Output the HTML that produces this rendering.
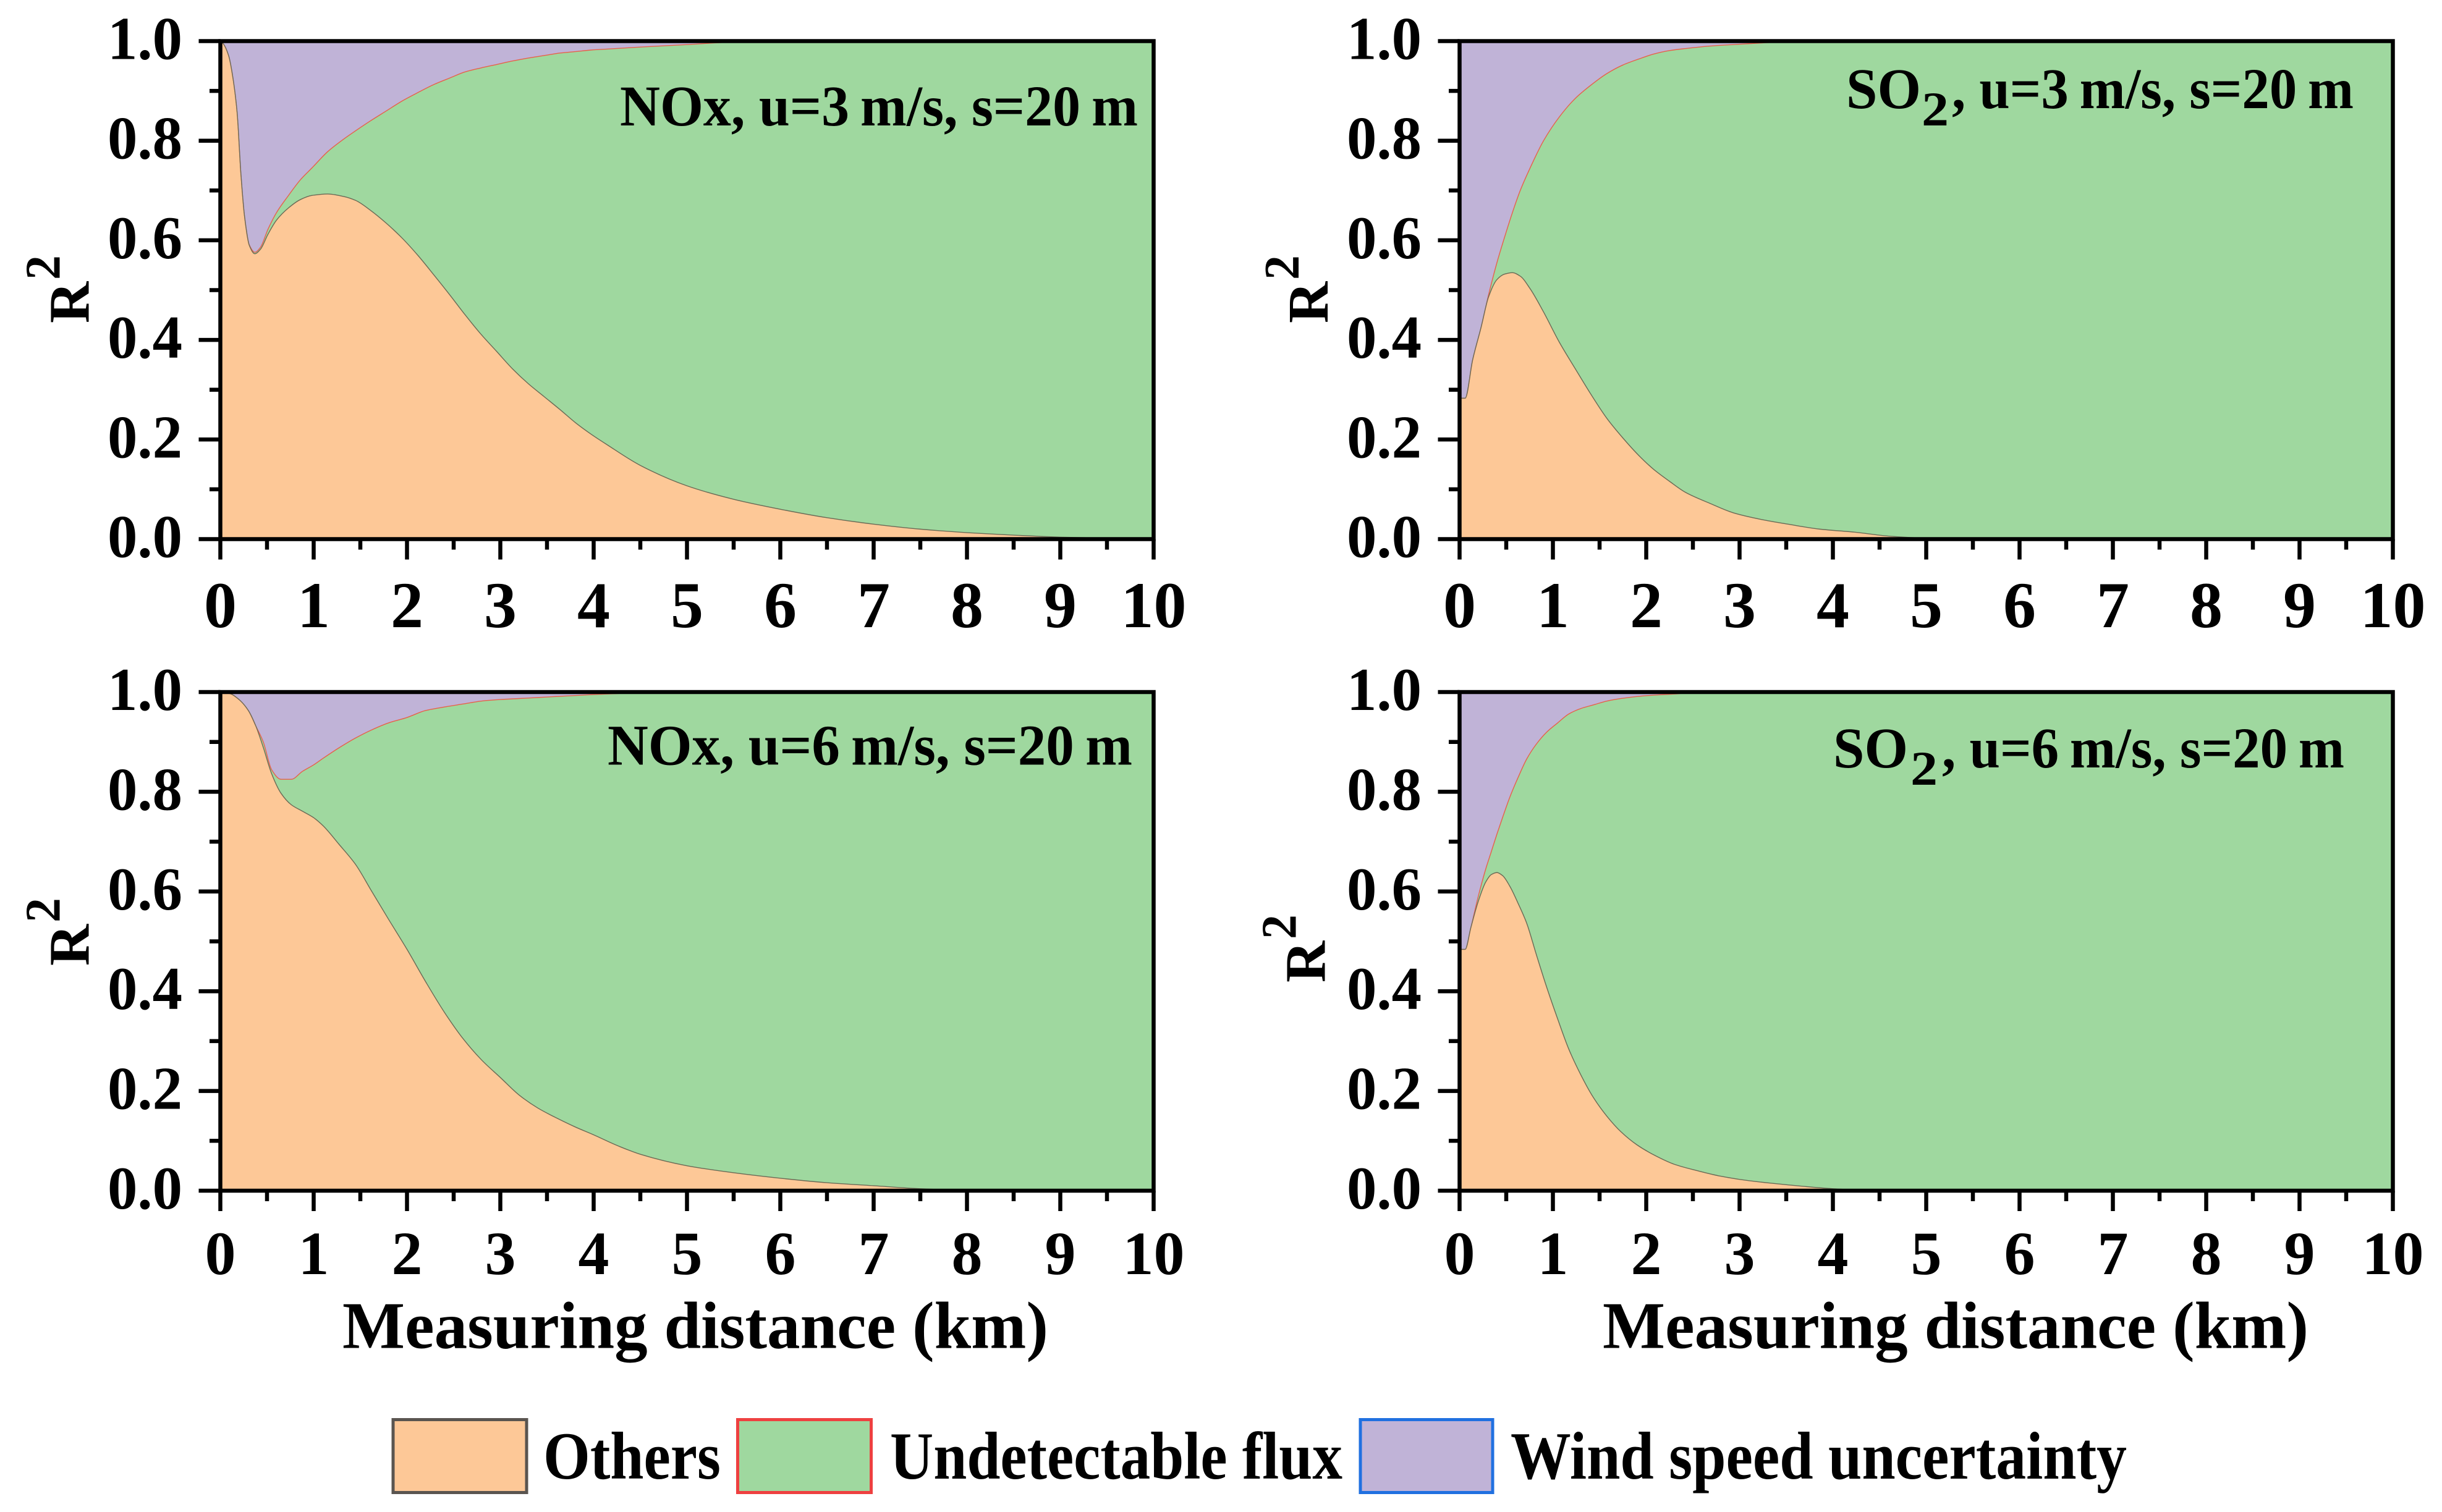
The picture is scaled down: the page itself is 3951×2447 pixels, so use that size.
<!DOCTYPE html>
<html lang="en">
<head>
<meta charset="utf-8">
<title>R2 contribution vs measuring distance</title>
<style>
  html, body { margin: 0; padding: 0; background: #fff; }
  svg { display: block; }
  text { font-family: "Liberation Serif", serif; font-weight: bold; fill: #000; }
</style>
</head>
<body>
<svg id="chart" xmlns="http://www.w3.org/2000/svg" width="3951" height="2447" viewBox="0 0 3951 2447">
  <rect x="0" y="0" width="3951" height="2447" fill="#ffffff"/>
  <g>
    <rect x="636" y="2297.5" width="216" height="118" fill="#fdc897" stroke="#5a5550" stroke-width="5"/>
    <text x="879" y="2393" font-size="109" textLength="287" lengthAdjust="spacingAndGlyphs">Others</text>
    <rect x="1193.5" y="2297.5" width="216" height="118" fill="#9fd89f" stroke="#ee4040" stroke-width="5"/>
    <text x="1440" y="2393" font-size="109" textLength="732" lengthAdjust="spacingAndGlyphs">Undetectable flux</text>
    <rect x="2201" y="2297.5" width="214" height="118" fill="#c0b3d7" stroke="#2070e0" stroke-width="5"/>
    <text x="2444" y="2393" font-size="109" textLength="997" lengthAdjust="spacingAndGlyphs">Wind speed uncertainty</text>
  </g>
</svg>
<script>
// ---- Shared axis data ----
const xTickLabels = [0, 1, 2, 3, 4, 5, 6, 7, 8, 9, 10];
const xMinorTicks = [0.5, 1.5, 2.5, 3.5, 4.5, 5.5, 6.5, 7.5, 8.5, 9.5];
const yTickLabels = ['0.0', '0.2', '0.4', '0.6', '0.8', '1.0'];
const yMinorTicks = [0.1, 0.3, 0.5, 0.7, 0.9];

// ---- NOx, u=3 m/s, s=20 m ----
const nox3Distance = [0,.03,.09,.135,.18,.22,.26,.31,.37,.43,.51,.6,.73,.86,.98,1.15,1.32,1.45,1.61,1.78,1.95,2.12,2.29,2.46,2.62,2.79,2.96,3.13,3.3,3.47,3.64,3.81,3.97,4.14,4.5,5,5.5,6,6.5,7,7.5,8,8.5,9,9.5,10];
const nox3Others = [1,.995,.97,.926,.856,.734,.647,.59,.573,.582,.612,.64,.665,.682,.69,.693,.688,.68,.66,.634,.604,.569,.53,.49,.451,.412,.377,.342,.312,.286,.26,.233,.211,.19,.148,.107,.08,.06,.043,.03,.02,.013,.008,.004,.002,0];
const nox3Undetectable = [0,0,0,0,0,0,0,.001,.003,.004,.01,.015,.025,.04,.055,.085,.115,.14,.18,.226,.276,.328,.383,.436,.487,.534,.576,.618,.654,.685,.716,.746,.771,.794,.84,.886,.918,.94,.957,.97,.98,.987,.992,.996,.998,1];
const nox3Wind = [0,.005,.03,.074,.144,.266,.353,.409,.424,.414,.378,.345,.31,.278,.255,.222,.197,.18,.16,.14,.12,.103,.087,.074,.062,.054,.047,.04,.034,.029,.024,.021,.018,.016,.012,.007,.002,0,0,0,0,0,0,0,0,0];

// ---- SO2, u=3 m/s, s=20 m ----
const so3Distance = [0,.06,.14,.23,.31,.4,.48,.565,.65,.755,.9,1.07,1.24,1.41,1.58,1.75,1.92,2.08,2.25,2.42,2.68,2.93,3.22,3.52,3.86,4.23,4.6,5,5.5,10];
const so3Others = [.283,.283,.36,.425,.486,.521,.532,.535,.528,.503,.456,.395,.342,.29,.242,.203,.168,.14,.116,.094,.072,.053,.04,.03,.02,.014,.006,.002,0,0];
const so3Undetectable = [0,0,0,0,.004,.034,.073,.12,.172,.242,.344,.453,.543,.622,.693,.749,.796,.834,.865,.891,.918,.94,.956,.969,.98,.986,.994,.998,1,1];
const so3Wind = [.717,.717,.64,.575,.51,.445,.395,.345,.3,.255,.2,.152,.115,.088,.065,.048,.036,.026,.019,.015,.01,.007,.004,.001,0,0,0,0,0,0];

// ---- NOx, u=6 m/s, s=20 m ----
const nox6Distance = [0,.1,.2,.3,.38,.46,.55,.65,.76,.88,1,1.1,1.27,1.45,1.62,1.8,2,2.2,2.4,2.6,2.8,3,3.2,3.4,3.6,3.8,4,4.26,4.5,5,5.5,6,6.5,7,7.5,8,8.5,10];
const nox6Others = [1,.997,.985,.963,.932,.889,.836,.797,.774,.761,.748,.732,.695,.654,.601,.545,.484,.419,.358,.305,.262,.227,.192,.166,.146,.128,.112,.09,.073,.05,.036,.025,.016,.01,.004,.001,0,0];
const nox6Undetectable = [0,0,0,0,0,.011,.008,.028,.051,.08,.106,.135,.193,.254,.323,.393,.465,.544,.612,.671,.72,.758,.795,.823,.845,.865,.883,.907,.927,.95,.964,.975,.984,.99,.996,.999,1,1];
const nox6Wind = [0,.003,.015,.037,.068,.1,.156,.175,.175,.159,.146,.133,.112,.092,.076,.062,.051,.037,.03,.024,.018,.015,.013,.011,.009,.007,.005,.003,0,0,0,0,0,0,0,0,0,0];

// ---- SO2, u=6 m/s, s=20 m ----
const so6Distance = [0,.06,.12,.2,.28,.34,.4,.46,.54,.63,.72,.82,.93,1.05,1.17,1.3,1.43,1.58,1.73,1.9,2.1,2.3,2.55,2.8,3.1,3.5,4,4.5,10];
const so6Others = [.484,.484,.527,.58,.619,.634,.638,.632,.61,.575,.536,.475,.41,.345,.284,.232,.188,.149,.118,.092,.07,.053,.04,.029,.02,.012,.004,0,0];
const so6Undetectable = [0,0,0,.01,.026,.046,.077,.116,.18,.255,.33,.42,.509,.593,.672,.735,.786,.833,.869,.899,.924,.943,.96,.971,.98,.988,.996,1,1];
const so6Wind = [.516,.516,.473,.41,.355,.32,.285,.252,.21,.17,.134,.105,.081,.062,.044,.033,.026,.018,.013,.009,.006,.004,0,0,0,0,0,0,0];

const NS = 'http://www.w3.org/2000/svg';
const svg = document.getElementById('chart');

function makeEl(parent, tag, name, attrs, content) {
  const el = document.createElementNS(NS, tag);
  
  
  for (const k in attrs) el.setAttribute(k, attrs[k]);
  if (content !== undefined) el.textContent = content;
  parent.appendChild(el);
  return el;
}

// Monotone cubic tangents so the area edges stay smooth without overshoot.
function tangents(xs, ys) {
  const n = xs.length;
  const d = [];
  for (let i = 0; i < n - 1; i++) d.push((ys[i + 1] - ys[i]) / (xs[i + 1] - xs[i]));
  const m = [d[0]];
  for (let i = 1; i < n - 1; i++) {
    if (d[i - 1] * d[i] <= 0) { m.push(0); continue; }
    const h0 = xs[i] - xs[i - 1];
    const h1 = xs[i + 1] - xs[i];
    const w1 = 2 * h1 + h0;
    const w2 = h1 + 2 * h0;
    m.push((w1 + w2) / (w1 / d[i - 1] + w2 / d[i]));
  }
  m.push(d[n - 2]);
  return m;
}

function curve(p, values, reverse) {
  const xs = p.distance;
  const m = tangents(xs, values);
  const X = p.xScale;
  const Y = p.yScale;
  const f = function (v) { return v.toFixed(2); };
  let d = '';
  if (!reverse) {
    for (let i = 0; i < xs.length - 1; i++) {
      const h = (xs[i + 1] - xs[i]) / 3;
      d += 'C' + f(X(xs[i] + h)) + ' ' + f(Y(values[i] + m[i] * h)) + ' ' +
           f(X(xs[i + 1] - h)) + ' ' + f(Y(values[i + 1] - m[i + 1] * h)) + ' ' +
           f(X(xs[i + 1])) + ' ' + f(Y(values[i + 1]));
    }
  } else {
    for (let i = xs.length - 1; i > 0; i--) {
      const h = (xs[i] - xs[i - 1]) / 3;
      d += 'C' + f(X(xs[i] - h)) + ' ' + f(Y(values[i] - m[i] * h)) + ' ' +
           f(X(xs[i - 1] + h)) + ' ' + f(Y(values[i - 1] + m[i - 1] * h)) + ' ' +
           f(X(xs[i - 1])) + ' ' + f(Y(values[i - 1]));
    }
  }
  return d;
}

function stackPath(p, lower, upper) {
  const last = p.distance.length - 1;
  return 'M' + p.xScale(p.distance[0]).toFixed(2) + ' ' + p.yScale(upper[0]).toFixed(2) +
    curve(p, upper, false) +
    'L' + p.xScale(p.distance[last]).toFixed(2) + ' ' + p.yScale(lower[last]).toFixed(2) +
    curve(p, lower, true) + 'Z';
}

function linePath(p, values) {
  return 'M' + p.xScale(p.distance[0]).toFixed(2) + ' ' + p.yScale(values[0]).toFixed(2) + curve(p, values, false);
}

function drawPanel(p) {
  p.xScale = function (v) { return p.x0 + (v / 10) * p.width; };
  p.yScale = function (v) { return p.y0 - v * p.height; };
  const g = makeEl(svg, 'g', p.name, {});

  const zero = p.distance.map(function () { return 0; });
  const level1 = p.others.slice();
  const level2 = level1.map(function (v, i) { return v + p.undetectable[i]; });
  const level3 = level2.map(function (v, i) { return v + p.wind[i]; });

  makeEl(g, 'path', 'wind-speed-uncertainty-area', { d: stackPath(p, level2, level3), fill: '#c0b3d7' });
  makeEl(g, 'path', 'undetectable-flux-area', { d: stackPath(p, level1, level2), fill: '#9fd89f' });
  makeEl(g, 'path', 'others-area', { d: stackPath(p, zero, level1), fill: '#fdc897' });
  makeEl(g, 'path', 'undetectable-flux-top-line', { d: linePath(p, level2), fill: 'none', stroke: '#e8604a', 'stroke-width': 1.4, 'stroke-linejoin': 'round' });
  makeEl(g, 'path', 'others-top-line', { d: linePath(p, level1), fill: 'none', stroke: '#6a6a55', 'stroke-width': 1.4, 'stroke-linejoin': 'round' });

  const axisStroke = { stroke: '#000', 'stroke-width': 6.5, fill: 'none' };
  const right = p.x0 + p.width;
  const top = p.y0 - p.height;
  makeEl(g, 'path', 'plot-frame', Object.assign({ d: 'M' + p.x0 + ' ' + p.y0 + 'L' + p.x0 + ' ' + top + 'L' + right + ' ' + top + 'L' + right + ' ' + p.y0 + 'Z' }, axisStroke));

  xTickLabels.forEach(function (v) {
    const x = p.xScale(v);
    makeEl(g, 'line', 'x-major-tick', Object.assign({ x1: x, x2: x, y1: p.y0, y2: p.y0 + 33 }, axisStroke));
    makeEl(g, 'text', 'x-tick-label', { x: x, y: p.xLabelY, 'font-size': p.xLabelSize, 'text-anchor': 'middle' }, String(v));
  });
  xMinorTicks.forEach(function (v) {
    const x = p.xScale(v);
    makeEl(g, 'line', 'x-minor-tick', Object.assign({ x1: x, x2: x, y1: p.y0, y2: p.y0 + 17 }, axisStroke));
  });
  yTickLabels.forEach(function (label) {
    const y = p.yScale(Number(label));
    makeEl(g, 'line', 'y-major-tick', Object.assign({ x1: p.x0 - 35, x2: p.x0, y1: y, y2: y }, axisStroke));
    makeEl(g, 'text', 'y-tick-label', { x: p.x0 - 61.5, y: y + 29, 'font-size': 99, 'text-anchor': 'end', textLength: 121, lengthAdjust: 'spacingAndGlyphs' }, label);
  });
  yMinorTicks.forEach(function (v) {
    const y = p.yScale(v);
    makeEl(g, 'line', 'y-minor-tick', Object.assign({ x1: p.x0 - 17.5, x2: p.x0, y1: y, y2: y }, axisStroke));
  });

  makeEl(g, 'text', 'y-axis-title', { transform: 'translate(' + p.rX + ' ' + p.rY + ') rotate(-90)', 'font-size': 93 }, 'R');
  makeEl(g, 'text', 'y-axis-title-superscript', { transform: 'translate(' + (p.rX - 47) + ' ' + (p.rY - 70) + ') rotate(-90)', 'font-size': 80 }, '2');

  if (p.title) {
    makeEl(g, 'text', 'x-axis-title', { x: p.title.x, y: 2181.7, 'font-size': 108, textLength: 1142, lengthAdjust: 'spacingAndGlyphs' }, 'Measuring distance (km)');
  }

  if (p.note.plain) {
    makeEl(g, 'text', 'panel-annotation', { x: p.note.x, y: p.note.y, 'font-size': 93, textLength: p.note.len, lengthAdjust: 'spacingAndGlyphs' }, p.note.plain);
  } else {
    makeEl(g, 'text', 'panel-annotation-species', { x: p.note.x, y: p.note.y, 'font-size': 93, textLength: p.note.len, lengthAdjust: 'spacingAndGlyphs' }, 'SO');
    makeEl(g, 'text', 'panel-annotation-subscript', { x: p.note.subX, y: p.note.y + 28, 'font-size': 78, textLength: 44, lengthAdjust: 'spacingAndGlyphs' }, '2');
    makeEl(g, 'text', 'panel-annotation-conditions', { x: p.note.restX, y: p.note.y, 'font-size': 93, textLength: p.note.restLen, lengthAdjust: 'spacingAndGlyphs', 'xml:space': 'preserve' }, p.note.rest);
  }
}

drawPanel({
  name: 'panel-nox-3ms', x0: 356.5, y0: 872.5, width: 1510, height: 806,
  distance: nox3Distance, others: nox3Others, undetectable: nox3Undetectable, wind: nox3Wind,
  xLabelY: 1015, xLabelSize: 106, rX: 143.5, rY: 523,
  note: { plain: 'NOx, u=3\u2009m/s, s=20\u2009m', x: 1003, y: 203, len: 838 }
});
drawPanel({
  name: 'panel-so2-3ms', x0: 2361.5, y0: 872.5, width: 1510, height: 806,
  distance: so3Distance, others: so3Others, undetectable: so3Undetectable, wind: so3Wind,
  xLabelY: 1015, xLabelSize: 106, rX: 2148, rY: 523,
  note: { x: 2987, y: 175, len: 121, subX: 3109, restX: 3158, rest: ', u=3\u2009m/s, s=20\u2009m', restLen: 650 }
});
drawPanel({
  name: 'panel-nox-6ms', x0: 356.5, y0: 1927, width: 1510, height: 807,
  distance: nox6Distance, others: nox6Others, undetectable: nox6Undetectable, wind: nox6Wind,
  xLabelY: 2062, xLabelSize: 100, rX: 143.5, rY: 1563,
  title: { x: 554 },
  note: { plain: 'NOx, u=6\u2009m/s, s=20\u2009m', x: 983, y: 1237.7, len: 849 }
});
drawPanel({
  name: 'panel-so2-6ms', x0: 2361.5, y0: 1927, width: 1510, height: 807,
  distance: so6Distance, others: so6Others, undetectable: so6Undetectable, wind: so6Wind,
  xLabelY: 2062, xLabelSize: 100, rX: 2143.5, rY: 1590,
  title: { x: 2593 },
  note: { x: 2966, y: 1242, len: 121, subX: 3091, restX: 3142, rest: ', u=6\u2009m/s, s=20\u2009m', restLen: 651 }
});
</script>
</body>
</html>
